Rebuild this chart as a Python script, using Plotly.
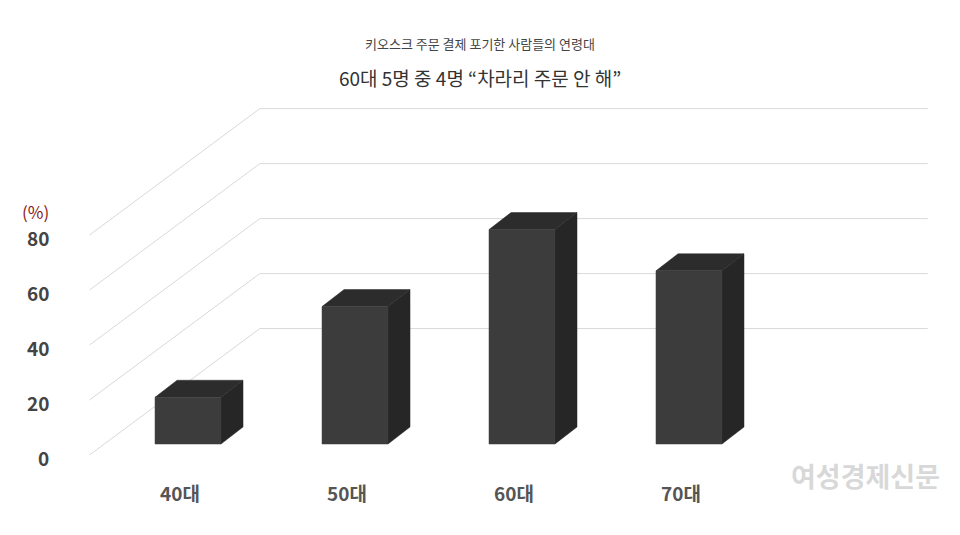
import plotly.graph_objects as go

categories = ["40대", "50대", "60대", "70대"]
values = [17, 50, 78, 63]
tick_values = [0, 20, 40, 60, 80]

title = "60대 5명 중 4명 “차라리 주문 안 해”"
subtitle = "키오스크 주문 결제 포기한 사람들의 연령대"

# fake-3D geometry, in data units
bar_w = 0.395
depth_x = 0.132
depth_y = 6.2
wall_front_x, wall_back_x, wall_right_x = -0.59, 0.43, 4.43
front_shift, back_shift = -4, 42

# page body has an 8px margin; compensate in paper coordinates
px = 8 / 960
py = 8 / 535

fig = go.Figure()

# slanted gridlines on the left wall, then back wall lines
for v in tick_values:
    fig.add_trace(go.Scatter(
        x=[wall_front_x, wall_back_x, wall_right_x],
        y=[v + front_shift, v + back_shift, v + back_shift],
        mode="lines", line=dict(color="#d9d9d9", width=1),
        hoverinfo="skip", showlegend=False))


def face(xs, ys, color):
    fig.add_trace(go.Scatter(
        x=xs, y=ys, fill="toself", fillcolor=color, mode="lines",
        line=dict(color=color, width=0.5), hoverinfo="skip", showlegend=False))


for i, v in enumerate(values):
    x0, x1 = i - bar_w / 2, i + bar_w / 2
    face([x1, x1 + depth_x, x1 + depth_x, x1, x1], [0, depth_y, v + depth_y, v, 0], "#262626")
    face([x0, x1, x1 + depth_x, x0 + depth_x, x0], [v, v, v + depth_y, v + depth_y, v], "#2c2c2c")
    face([x0, x1, x1, x0, x0], [0, 0, v, v, 0], "#3c3c3c")

annotations = []
for v in tick_values:
    annotations.append(dict(x=-0.82, y=v - 5, xref="x", yref="y", text=f"<b>{v}</b>",
                            showarrow=False, xanchor="right",
                            font=dict(size=19, color="#444444")))
annotations.append(dict(x=-0.82, y=84.5, xref="x", yref="y", text="(%)", showarrow=False,
                        xanchor="right", font=dict(size=17, color="#8b1a1a")))
for i, c in enumerate(categories):
    annotations.append(dict(x=i - 0.05, y=-17.5, xref="x", yref="y", text=f"<b>{c}</b>",
                            showarrow=False, font=dict(size=19, color="#555555")))
annotations.append(dict(x=0.5 - px, y=1 - 32 / 535 + py, xref="paper", yref="paper", text=subtitle,
                        showarrow=False, xanchor="center", font=dict(size=13, color="#444444")))
annotations.append(dict(x=0.5 - px, y=1 - 62 / 535 + py, xref="paper", yref="paper", text=title,
                        showarrow=False, xanchor="center", font=dict(size=19, color="#333333")))
annotations.append(dict(x=865 / 960 - px, y=1 - 497 / 535 + py, xref="paper", yref="paper",
                        text="<b>여성경제신문</b>", showarrow=False, xanchor="center",
                        font=dict(size=27, color="rgba(190,190,190,0.6)")))

fig.update_layout(
    width=960, height=535, margin=dict(l=0, r=0, t=0, b=0),
    paper_bgcolor="white", plot_bgcolor="white",
    font=dict(family="Noto Sans CJK KR"),
    xaxis=dict(range=[-1.078, 4.671], visible=False, fixedrange=True),
    yaxis=dict(range=[-36.0, 158.6], visible=False, fixedrange=True),
    annotations=annotations,
)

fig.write_html("out.html")
